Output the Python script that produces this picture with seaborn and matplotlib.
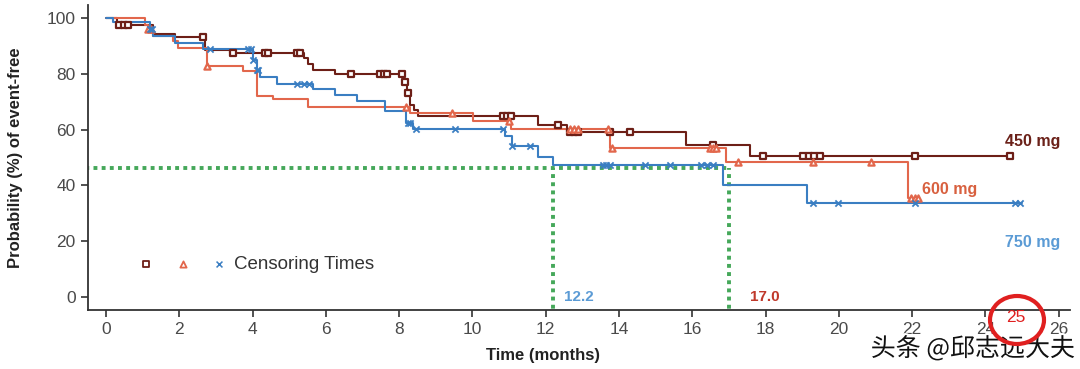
import numpy as np
import pandas as pd
import matplotlib
matplotlib.use("Agg")
import matplotlib.pyplot as plt
import matplotlib.patheffects as pe
from matplotlib.patches import Ellipse
import seaborn as sns

# Kaplan-Meier style step curves
t450 = [0, 0.3, 1.29, 1.88, 2.7, 3.38, 5.4, 5.52, 5.66, 6.25, 8.12, 8.22, 8.3, 8.4, 8.52, 11.8, 12.57, 15.84, 17.57, 24.67]
s450 = [100, 97.5, 94.2, 93.3, 88.5, 87.6, 85.5, 83.5, 81.4, 80.1, 77.2, 73.0, 68.8, 67.0, 64.9, 61.6, 59.2, 54.5, 50.5, 50.5]
c450 = [0.35, 0.5, 0.6, 2.66, 3.47, 4.34, 4.42, 5.2, 5.3, 6.7, 7.48, 7.58, 7.68, 8.07, 8.16, 8.25,
        10.84, 10.94, 11.04, 12.34, 12.66, 12.78, 12.89, 13.75, 14.3, 16.57, 17.93, 19.03, 19.18,
        19.33, 19.48, 22.07, 24.67]

t600 = [0, 1.06, 1.15, 1.29, 1.84, 1.97, 2.75, 3.75, 4.11, 4.57, 5.52, 8.3, 10.02, 11.05, 13.75, 16.93, 21.89, 22.16]
s600 = [100, 97.5, 96.0, 93.5, 91.6, 89.4, 82.8, 81.1, 72.0, 70.9, 68.1, 66.1, 63.2, 60.1, 53.3, 48.5, 35.4, 35.4]
c600 = [1.15, 1.22, 2.76, 8.2, 9.43, 11.0, 12.66, 12.78, 12.89, 13.7, 13.8, 16.48, 16.57, 16.66,
        17.25, 19.3, 20.89, 21.98, 22.07, 22.16]

t750 = [0, 0.2, 1.2, 1.29, 1.88, 2.66, 4.02, 4.11, 4.2, 4.66, 5.66, 6.25, 6.84, 7.61, 8.2, 8.39,
        10.89, 11.07, 11.8, 12.2, 16.83, 19.12, 25.0]
s750 = [100, 98.6, 96.0, 93.5, 91.2, 88.9, 85.0, 81.4, 79.0, 76.3, 74.4, 72.4, 70.4, 66.8, 62.5, 60.1,
        57.6, 54.1, 50.3, 47.3, 40.1, 33.6, 33.6]
c750 = [1.2, 1.25, 2.84, 3.88, 3.95, 4.02, 4.11, 4.15, 5.2, 5.4, 5.55, 8.25, 8.3, 8.45, 9.52, 10.84,
        11.07, 11.57, 13.56, 13.65, 13.75, 14.7, 15.39, 16.25, 16.4, 16.57, 19.3, 19.98, 22.07,
        24.8, 24.95]

doses = ["450 mg", "600 mg", "750 mg"]
median_level = 46.1
median_times = [12.2, 17.0]
median_labels = ["12.2", "17.0"]

x_ticks = list(range(0, 27, 2))
y_ticks = list(range(0, 101, 20))

brown = "#6d1f17"
orange = "#e2674c"
blue = "#3a7ec2"
green = "#45a85a"

sns.set_theme(style="ticks")
plt.rcParams["font.family"] = ["Liberation Sans", "Noto Sans CJK SC", "DejaVu Sans"]

fig = plt.figure(figsize=(10.8, 3.69), dpi=100)
ax = fig.add_axes([0.0815, 0.160, 0.909, 0.8266])


def step_at(times, surv, c):
    idx = np.searchsorted(np.array(times), np.array(c), side="right") - 1
    return np.array(surv)[idx]


curves = [
    (t450, s450, c450, brown, "s"),
    (t600, s600, c600, orange, "^"),
    (t750, s750, c750, blue, "x"),
]

# green median guide lines (drawn first, under the curves)
ax.plot([-1, median_times[1]], [median_level, median_level], color=green, lw=2.8,
        dashes=(1, 1.1), dash_capstyle="butt", zorder=1)
for mt in median_times:
    ax.plot([mt, mt], [-10, median_level], color=green, lw=2.8,
            dashes=(1, 1.1), dash_capstyle="butt", zorder=1)

for times, surv, cens, col, mk in curves:
    df = pd.DataFrame({"t": times, "s": surv})
    sns.lineplot(data=df, x="t", y="s", drawstyle="steps-post", estimator=None, sort=False,
                 color=col, lw=1.5, ax=ax, zorder=3)
    cy = step_at(times, surv, cens)
    if mk == "x":
        sns.scatterplot(x=cens, y=cy, marker="x", color=col, s=20, linewidth=1.3, ax=ax, zorder=4)
    else:
        sns.scatterplot(x=cens, y=cy, marker=mk, color="white", edgecolor=col, s=20,
                        linewidth=1.6, ax=ax, zorder=4)

ax.set_xlim(-0.49, 26.3)
ax.set_ylim(-4.66, 104.7)
ax.set_xticks(x_ticks)
ax.set_yticks(y_ticks)
ax.tick_params(axis="both", direction="out", length=5, width=1.2, color="#333333",
               labelsize=12.5, labelcolor="#4a4a4a", pad=4)
sns.despine(ax=ax)
for sp in ["left", "bottom"]:
    ax.spines[sp].set_color("#333333")
    ax.spines[sp].set_linewidth(1.3)

ax.set_xlabel("Time (months)", fontsize=12, fontweight="bold", color="#222222")
ax.set_ylabel("Probability (%) of event-free", fontsize=12, fontweight="bold", color="#222222")
ax.xaxis.set_label_coords(0.463, -0.125)
ax.yaxis.set_label_coords(-0.066, 0.5)

# dose labels at the right
ax.text(24.53, 55.6, doses[0], color="#6b2119", fontsize=11.5, fontweight="bold", va="center")
ax.text(22.27, 38.4, doses[1], color="#d8603f", fontsize=11.5, fontweight="bold", va="center")
ax.text(24.53, 19.7, doses[2], color="#5b9bd5", fontsize=11.5, fontweight="bold", va="center")

# median labels
ax.text(median_times[0] + 0.3, 0, median_labels[0], color="#5b9bd5", fontsize=11,
        fontweight="bold", va="center")
ax.text(median_times[1] + 0.57, 0, median_labels[1], color="#c0392b", fontsize=11,
        fontweight="bold", va="center")

# censoring legend
ax.scatter([1.09], [11.8], marker="s", color="white", edgecolor=brown, s=18, linewidth=1.3, zorder=5)
ax.scatter([2.1], [11.8], marker="^", color="white", edgecolor=orange, s=20, linewidth=1.3, zorder=5)
ax.scatter([3.08], [11.8], marker="x", color=blue, s=18, linewidth=1.1, zorder=5)
ax.text(3.49, 11.8, "Censoring Times", fontsize=13.5, color="#333333", va="center")

# red circle annotation around "25"
circ = Ellipse((1017 / 1080, 1 - 320 / 369), 54 / 1080, 48 / 369, transform=fig.transFigure,
               fill=False, edgecolor="#e02020", lw=3, zorder=10, clip_on=False)
fig.patches.append(circ)
fig.text(1016 / 1080, 1 - 317 / 369, "25", color="#e02020", fontsize=12.5, ha="center", va="center")

# watermark
fig.text(1075 / 1080, 1 - 349 / 369, "头条 @邱志远大夫", fontsize=18, color="#111111",
         ha="right", va="center", family=["Noto Sans CJK SC", "DejaVu Sans"],
         path_effects=[pe.withStroke(linewidth=3, foreground="white")])

fig.savefig("out.png", dpi=100)
